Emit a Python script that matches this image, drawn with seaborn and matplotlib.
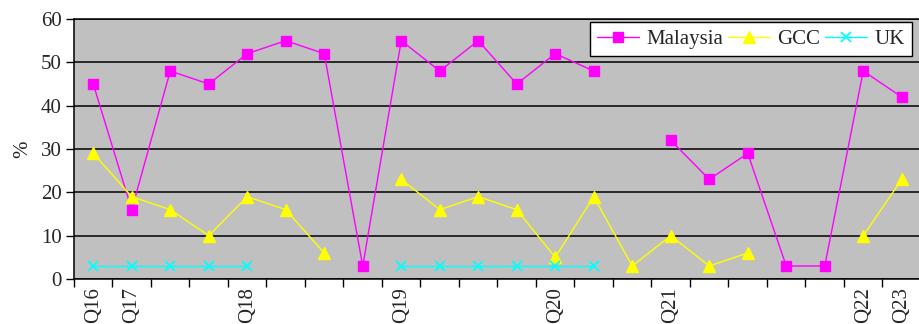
import numpy as np
import pandas as pd
import matplotlib
matplotlib.use("Agg")
import matplotlib.pyplot as plt
from matplotlib.lines import Line2D
import seaborn as sns

# Quarter labels (blank entries are unlabeled periods)
quarters = ["Q16", "Q17", "", "", "Q18", "", "", "", "Q19", "", "", "",
            "Q20", "", "", "Q21", "", "", "", "", "Q22", "Q23"]
malaysia = [45, 16, 48, 45, 52, 55, 52, 3, 55, 48, 55, 45, 52, 48, np.nan,
            32, 23, 29, 3, 3, 48, 42]
gcc = [29, 19, 16, 10, 19, 16, 6, np.nan, 23, 16, 19, 16, 5, 19, 3, 10, 3, 6,
       np.nan, np.nan, 10, 23]
uk = [3, 3, 3, 3, 3, np.nan, np.nan, np.nan, 3, 3, 3, 3, 3, 3,
      np.nan, np.nan, np.nan, np.nan, np.nan, np.nan, np.nan, np.nan]

series = [
    ("Malaysia", malaysia, "#FF00FF", "s", 7, 1.0),
    ("GCC", gcc, "#FFFF00", "^", 8, 1.0),
    ("UK", uk, "#00FFFF", "x", 7, 1.3),
]

sns.set_style("ticks")
plt.rcParams["font.family"] = ["Liberation Serif", "DejaVu Serif"]
FS = 15

fig = plt.figure(figsize=(9.2, 3.24), dpi=100)
ax = fig.add_axes([74 / 920, 45 / 324, 847 / 920, 260 / 324])
ax.set_facecolor("#C0C0C0")

n = len(quarters)
xpos = np.arange(n) + 0.5


def segments(vals):
    """Split a series into runs of consecutive non-missing values."""
    runs, cur = [], []
    for i, v in enumerate(vals):
        if np.isnan(v):
            if cur:
                runs.append(cur)
            cur = []
        else:
            cur.append(i)
    if cur:
        runs.append(cur)
    return runs


handles = []
for name, vals, color, marker, ms, mew in series:
    arr = np.array(vals, dtype=float)
    for run in segments(arr):
        df = pd.DataFrame({"x": xpos[run], "y": arr[run]})
        sns.lineplot(data=df, x="x", y="y", ax=ax, color=color, linewidth=1.0,
                     marker=marker, markersize=ms, markeredgecolor=color,
                     markeredgewidth=mew, legend=False, estimator=None,
                     sort=False)
    handles.append(Line2D([], [], color=color, lw=1.0, marker=marker,
                          markersize=ms, markeredgecolor=color,
                          markeredgewidth=mew, label=name))

ax.set_xlim(0, n)
ax.set_ylim(0, 60)
ax.set_yticks(range(0, 61, 10))
ax.yaxis.grid(True, color="black", linewidth=1.1)
ax.set_axisbelow(True)

# category boundaries carry the tick marks; centers carry the labels
ax.set_xticks(np.arange(n + 1))
ax.set_xticklabels([])
ax.set_xticks(xpos, minor=True)
ax.set_xticklabels(quarters, minor=True, rotation=90, ha="center", va="top")
ax.tick_params(axis="x", which="major", length=6, width=1, direction="out",
               color="black")
ax.tick_params(axis="x", which="minor", length=0, pad=6, labelsize=FS)
ax.tick_params(axis="y", length=6, width=1, direction="out", labelsize=FS,
               pad=3, color="black")

ax.set_xlabel("")
ax.set_ylabel("%", fontsize=FS, labelpad=6)

for side in ("left", "bottom", "top"):
    ax.spines[side].set_color("black")
    ax.spines[side].set_linewidth(1.1)
ax.spines["right"].set_visible(False)

leg = ax.legend(handles=handles, loc="upper right", ncol=3, fontsize=FS,
                bbox_to_anchor=(912 / 920, 1 - 22 / 324),
                bbox_transform=fig.transFigure, borderaxespad=0,
                frameon=True, fancybox=False, edgecolor="black",
                framealpha=1.0, handlelength=2.0,
                handletextpad=0.35, columnspacing=0.25, borderpad=0.35)
leg.get_frame().set_linewidth(1.0)

fig.savefig("out.png", dpi=100, facecolor="white")
